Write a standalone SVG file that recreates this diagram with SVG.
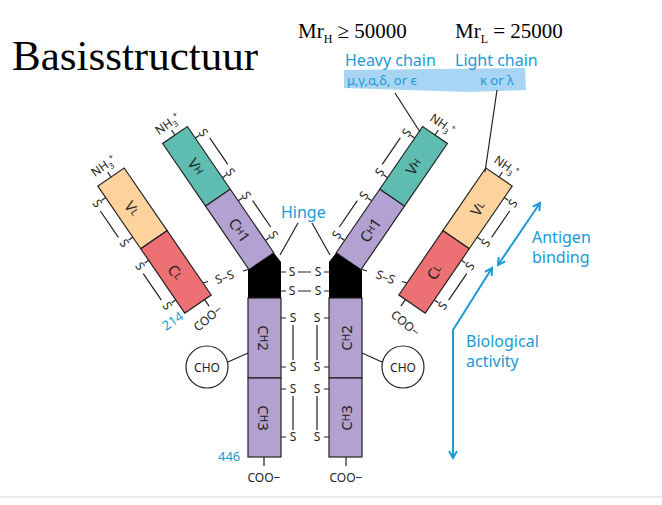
<svg xmlns="http://www.w3.org/2000/svg" width="662" height="505" viewBox="0 0 662 505">
<style>
.t{font-family:"Noto Sans","Open Sans",sans-serif;font-size:12px;fill:#222}
.d{font-family:"Noto Sans","Open Sans",sans-serif;font-size:15px;fill:#222}
.b{font-family:"Noto Sans","Open Sans",sans-serif;fill:#1a9ad6}
.sv{font-family:"Liberation Serif",serif;fill:#000}
.ln{stroke:#222;stroke-width:1.2;fill:none}
.ol{stroke:#222;stroke-width:1.2}
.vh{fill:#5fbcb0}.ch{fill:#b3a2d1}.vl{fill:#fdd29d}.cl{fill:#ec7074}
.ar{stroke:#1a9ad6;stroke-width:2;fill:none}
</style>
<defs>
<marker id="ah" markerWidth="10" markerHeight="10" refX="8" refY="5" orient="auto-start-reverse" markerUnits="userSpaceOnUse"><path d="M1,1 L8,5 L1,9" fill="none" stroke="#1a9ad6" stroke-width="2"/></marker>
<g id="sp90"><path class="ln" d="M15,14h5M15,62h5M27,22v32"/><text class="t" transform="translate(25,14) rotate(90)" text-anchor="middle" dominant-baseline="central">S</text><text class="t" transform="translate(25,62) rotate(90)" text-anchor="middle" dominant-baseline="central">S</text></g>
<g id="sm90"><path class="ln" d="M-16,14h-5M-16,62h-5M-28,22v32"/><text class="t" transform="translate(-26,14) rotate(90)" text-anchor="middle" dominant-baseline="central">S</text><text class="t" transform="translate(-26,62) rotate(90)" text-anchor="middle" dominant-baseline="central">S</text></g>
<g id="smm90"><path class="ln" d="M-15,14h-5M-15,62h-5M-27,22v32"/><text class="t" transform="translate(-25,14) rotate(-90)" text-anchor="middle" dominant-baseline="central">S</text><text class="t" transform="translate(-25,62) rotate(-90)" text-anchor="middle" dominant-baseline="central">S</text></g>
<g id="spm90"><path class="ln" d="M16,14h5M16,62h5M28,22v32"/><text class="t" transform="translate(26,14) rotate(-90)" text-anchor="middle" dominant-baseline="central">S</text><text class="t" transform="translate(26,62) rotate(-90)" text-anchor="middle" dominant-baseline="central">S</text></g>
</defs>
<rect width="662" height="505" fill="#fff"/>
<line x1="0" y1="497" x2="662" y2="497" stroke="#e4e4e4" stroke-width="1.5"/>

<g id="title">
<text class="sv" x="12" y="70" font-size="43">Basisstructuur</text>
<text class="sv" x="298" y="38" font-size="21">Mr<tspan font-size="12" dy="5">H</tspan><tspan dy="-5"> ≥ 50000</tspan></text>
<text class="sv" x="455" y="38" font-size="21">Mr<tspan font-size="12" dy="5">L</tspan><tspan dy="-5"> = 25000</tspan></text>
</g>

<g id="chain-labels">
<path d="M344,70 L525,68 L526,90 L470,92 L344,88Z" fill="#a9d5f5"/>
<text class="b" x="345" y="66" font-size="16">Heavy chain</text>
<text class="b" x="455" y="66" font-size="16">Light chain</text>
<text class="b" x="347" y="85" font-size="13">μ,γ,α,δ, or ϵ</text>
<text class="b" x="480" y="85" font-size="13">κ or λ</text>
</g>

<g id="left-heavy" transform="translate(175,135) rotate(-34.4)">
<rect class="vh ol" x="-15" y="0" width="30" height="76"/>
<rect class="ch ol" x="-15" y="76" width="30" height="77"/>
<text class="d" transform="translate(0,38) rotate(90)" text-anchor="middle" dominant-baseline="central">V<tspan font-size="10">H</tspan></text>
<text class="d" transform="translate(0,115) rotate(90)" text-anchor="middle" dominant-baseline="central">C<tspan font-size="10">H</tspan>1</text>
<use href="#sp90"/><use href="#sp90" y="76"/>
<path class="ln" d="M0,0v-6"/>
<text class="t" x="0" y="-9" text-anchor="middle">NH<tspan font-size="8" dy="3">3</tspan><tspan font-size="8" dy="-8">+</tspan></text>
</g>

<g id="left-light" transform="translate(111,177) rotate(-34.4)">
<rect class="vl ol" x="-16" y="0" width="32" height="76"/>
<rect class="cl ol" x="-16" y="76" width="32" height="78"/>
<text class="d" transform="translate(0,38) rotate(90)" text-anchor="middle" dominant-baseline="central">V<tspan font-size="10">L</tspan></text>
<text class="d" transform="translate(0,115) rotate(90)" text-anchor="middle" dominant-baseline="central">C<tspan font-size="10">L</tspan></text>
<use href="#sm90"/><use href="#sm90" y="76"/>
<path class="ln" d="M0,0v-6M8,154v8"/>
<text class="t" x="0" y="-9" text-anchor="middle">NH<tspan font-size="8" dy="3">3</tspan><tspan font-size="8" dy="-8">+</tspan></text>
</g>

<g id="right-heavy" transform="translate(435,135) rotate(34.4)">
<rect class="vh ol" x="-15" y="0" width="30" height="76"/>
<rect class="ch ol" x="-15" y="76" width="30" height="77"/>
<text class="d" transform="translate(0,38) rotate(-90)" text-anchor="middle" dominant-baseline="central">V<tspan font-size="10">H</tspan></text>
<text class="d" transform="translate(0,115) rotate(-90)" text-anchor="middle" dominant-baseline="central">C<tspan font-size="10">H</tspan>1</text>
<use href="#smm90"/><use href="#smm90" y="76"/>
<path class="ln" d="M0,0v-6"/>
<text class="t" x="0" y="-9" text-anchor="middle">NH<tspan font-size="8" dy="3">3</tspan><tspan font-size="8" dy="-8">+</tspan></text>
</g>

<g id="right-light" transform="translate(499,177) rotate(34.4)">
<rect class="vl ol" x="-16" y="0" width="32" height="76"/>
<rect class="cl ol" x="-16" y="76" width="32" height="78"/>
<text class="d" transform="translate(0,38) rotate(-90)" text-anchor="middle" dominant-baseline="central">V<tspan font-size="10">L</tspan></text>
<text class="d" transform="translate(0,115) rotate(-90)" text-anchor="middle" dominant-baseline="central">C<tspan font-size="10">L</tspan></text>
<use href="#spm90"/><use href="#spm90" y="76"/>
<path class="ln" d="M0,0v-6M-8,154v8"/>
<text class="t" x="0" y="-9" text-anchor="middle">NH<tspan font-size="8" dy="3">3</tspan><tspan font-size="8" dy="-8">+</tspan></text>
</g>

<g id="left-stem">
<polygon points="248,270 274,253 281,262 281,298 248,298" fill="#000"/>
<rect class="ch ol" x="248" y="298" width="33" height="80"/>
<rect class="ch ol" x="248" y="378" width="33" height="79"/>
<text class="d" transform="translate(264,338) rotate(90)" text-anchor="middle" dominant-baseline="central">C<tspan font-size="10">H</tspan>2</text>
<text class="d" transform="translate(264,418) rotate(90)" text-anchor="middle" dominant-baseline="central">C<tspan font-size="10">H</tspan>3</text>
</g>
<g id="right-stem">
<polygon points="362,270 336,253 329,262 329,298 362,298" fill="#000"/>
<rect class="ch ol" x="329" y="298" width="33" height="80"/>
<rect class="ch ol" x="329" y="378" width="33" height="79"/>
<text class="d" transform="translate(346,338) rotate(-90)" text-anchor="middle" dominant-baseline="central">C<tspan font-size="10">H</tspan>2</text>
<text class="d" transform="translate(346,418) rotate(-90)" text-anchor="middle" dominant-baseline="central">C<tspan font-size="10">H</tspan>3</text>
</g>

<g id="cho-left"><circle cx="207" cy="367" r="21" fill="#fff" class="ol"/><text class="t" x="207" y="372" text-anchor="middle" font-size="13">CHO</text></g>
<g id="cho-right"><circle cx="403" cy="367" r="21" fill="#fff" class="ol"/><text class="t" x="403" y="372" text-anchor="middle" font-size="13">CHO</text></g>

<g id="connectors">
<path class="ln" d="M228,362 L248,353 M382,362 L362,353"/>
<path class="ln" d="M264,457v9 M346,457v9"/>
<path class="ln" d="M281,272h5M324,272h5M281,291h5M324,291h5M298,272h13M298,291h13"/>
<path class="ln" d="M281,318h5M324,318h5M281,367h5M324,367h5M281,389h5M324,389h5M281,437h5M324,437h5"/>
<path class="ln" d="M293,325v35M317,325v35M293,396v34M317,396v34"/>
<path class="ln" d="M298,223 L280,255 M312,223 L330,255" stroke-width="1.6"/>
<path class="ln" d="M395,93 L420,132 M497,90 L485,172" stroke-width="1.8"/>
<path class="ln" d="M203,283 l5,-1.5 M243,271 l5,-1.5 M407,283 l-5,-1.5 M367,271 l-5,-1.5"/>
<path class="ar" d="M540,203 L498,265" marker-start="url(#ah)" marker-end="url(#ah)"/>
<path class="ar" d="M492,268 L453,330 L453,458" marker-start="url(#ah)" marker-end="url(#ah)"/>
</g>

<g id="labels">
<text class="t" x="292" y="276" text-anchor="middle">S</text><text class="t" x="318" y="276" text-anchor="middle">S</text>
<text class="t" x="292" y="295" text-anchor="middle">S</text><text class="t" x="318" y="295" text-anchor="middle">S</text>
<text class="t" x="293" y="322" text-anchor="middle">S</text><text class="t" x="317" y="322" text-anchor="middle">S</text>
<text class="t" x="293" y="371" text-anchor="middle">S</text><text class="t" x="317" y="371" text-anchor="middle">S</text>
<text class="t" x="293" y="393" text-anchor="middle">S</text><text class="t" x="317" y="393" text-anchor="middle">S</text>
<text class="t" x="293" y="441" text-anchor="middle">S</text><text class="t" x="317" y="441" text-anchor="middle">S</text>
<text class="t" transform="translate(226,281) rotate(-20)" text-anchor="middle">S–S</text>
<text class="t" transform="translate(384,281) rotate(20)" text-anchor="middle">S–S</text>
<text class="b" x="281" y="218" font-size="16">Hinge</text>
<text class="b" x="218" y="461" font-size="13">446</text>
<text class="b" transform="translate(166,331) rotate(-34)" font-size="13">214</text>
<text class="t" transform="translate(198,332) rotate(-40)" font-size="13">COO−</text>
<text class="t" transform="translate(390,316) rotate(40)" font-size="13">COO−</text>
<text class="t" x="264" y="482" text-anchor="middle" font-size="13">COO−</text>
<text class="t" x="346" y="482" text-anchor="middle" font-size="13">COO−</text>
<text class="b" x="532" y="243" font-size="16">Antigen</text>
<text class="b" x="532" y="263" font-size="16">binding</text>
<text class="b" x="466" y="347" font-size="16">Biological</text>
<text class="b" x="466" y="367" font-size="16">activity</text>
</g>
</svg>
